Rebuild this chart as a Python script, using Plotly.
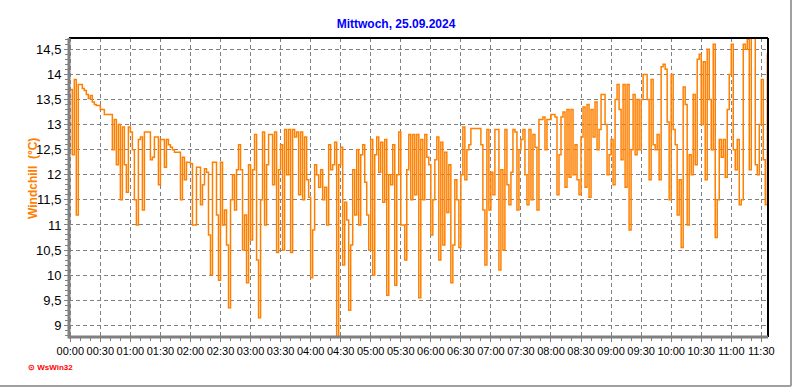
import plotly.graph_objects as go

# ---- data ----
STEP_MIN = 2  # sample spacing in minutes
WINDCHILL = [
    13.7, 12.4, 13.9, 11.2, 13.8, 13.8, 13.72, 13.68, 13.6, 13.52,
    13.58, 13.45, 13.4, 13.38, 13.38, 13.3, 13.3, 13.2, 13.2, 13.2,
    13.2, 12.5, 13.1, 12.2, 13.0, 11.5, 12.95, 12.2, 11.65, 12.95,
    12.85, 12.5, 11.5, 11.0, 12.7, 12.75, 11.3, 12.85, 12.85, 12.85,
    12.3, 12.35, 12.75, 12.75, 11.8, 12.7, 12.7, 12.15, 12.7, 12.6,
    12.55, 12.5, 12.45, 12.45, 12.45, 11.5, 12.35, 11.9, 12.25, 12.25,
    12.22, 11.0, 11.0, 12.15, 12.15, 11.4, 11.8, 12.12, 12.05, 10.8,
    10.0, 12.25, 12.25, 11.2, 9.9, 12.25, 11.0, 11.3, 10.6, 9.35,
    11.5, 12.0, 11.3, 12.1, 12.6, 12.1, 10.5, 11.2, 9.85, 12.2,
    10.7, 12.1, 12.8, 10.3, 9.15, 11.5, 12.85, 11.0, 12.2, 12.8,
    12.8, 11.8, 12.85, 10.45, 12.1, 12.6, 10.5, 12.9, 12.0, 12.9,
    10.45, 12.9, 12.75, 12.85, 11.6, 12.85, 11.5, 12.75, 11.9, 11.55,
    9.95, 10.9, 12.2, 12.0, 11.75, 12.1, 11.5, 11.75, 11.0, 12.6,
    12.1, 12.2, 12.65, 8.75, 12.2, 12.55, 10.2, 11.45, 11.1, 9.3,
    10.6, 12.1, 11.2, 12.5, 11.0, 12.4, 12.6, 11.85, 11.2, 10.5,
    12.7, 10.0, 12.4, 12.75, 12.05, 12.65, 11.45, 12.7, 9.6, 12.0,
    11.8, 12.6, 9.8, 12.0, 12.85, 11.0, 11.0, 10.3, 12.1, 12.8,
    11.5, 12.8, 11.6, 12.8, 9.55, 12.7, 11.5, 12.8, 12.35, 12.2,
    10.8, 11.5, 12.3, 12.75, 10.3, 12.65, 10.6, 12.45, 11.25, 12.2,
    9.85, 10.6, 11.9, 11.5, 10.55, 12.0, 12.95, 11.9, 12.5, 12.6,
    12.92, 12.92, 12.92, 12.92, 12.92, 12.6, 11.3, 10.2, 12.9, 11.3,
    12.05, 11.6, 12.9, 12.9, 10.1, 12.1, 10.5, 12.9, 11.8, 11.4,
    12.05, 12.9, 12.85, 11.3, 12.5, 12.7, 12.9, 12.0, 11.4, 12.9,
    11.5, 12.8, 12.55, 11.3, 13.1, 13.1, 13.15, 12.5, 13.1, 13.1,
    13.2, 13.2, 13.15, 11.6, 12.4, 13.15, 13.25, 11.75, 13.3, 11.95,
    13.3, 12.0, 12.6, 11.9, 11.6, 12.75, 13.35, 11.75, 13.4, 11.55,
    13.3, 12.75, 13.45, 12.5, 12.9, 13.6, 13.6, 13.0, 12.0, 12.4,
    12.7, 11.8, 13.5, 13.8, 13.3, 12.3, 13.8, 11.75, 13.8, 10.9,
    12.5, 13.6, 12.4, 13.5, 12.5, 13.5, 14.0, 14.0, 13.5, 11.9,
    13.9, 12.6, 12.5, 12.8, 11.9, 14.15, 14.2, 14.1, 13.05, 11.5,
    14.0, 12.9, 12.6, 11.2, 11.9, 10.55, 13.75, 13.4, 11.0, 12.4,
    12.0, 13.6, 12.2, 14.3, 14.4, 13.0, 14.25, 11.9, 14.5, 13.5,
    12.5, 14.6, 10.75, 11.5, 12.7, 12.35, 12.7, 11.95, 13.3, 14.0,
    14.6, 12.5, 12.1, 12.7, 11.4, 11.5, 14.6, 14.5, 14.7, 12.1,
    14.75, 14.75, 12.2, 12.0, 13.0, 13.9, 12.3, 11.4, 14.4, 11.1,
]
MINUTES = [i * STEP_MIN for i in range(len(WINDCHILL))]

X_TICK_MIN = list(range(0, 691, 30))
X_TICK_LABELS = [
    "00:00", "00:30", "01:00", "01:30", "02:00", "02:30", "03:00", "03:30",
    "04:00", "04:30", "05:00", "05:30", "06:00", "06:30", "07:00", "07:30",
    "08:00", "08:30", "09:00", "09:30", "10:00", "10:30", "11:00", "11:30",
]
Y_TICKS = [9, 9.5, 10, 10.5, 11, 11.5, 12, 12.5, 13, 13.5, 14, 14.5]

TITLE = "Mittwoch, 25.09.2024"
Y_TITLE = "Windchill\u00a0\u00a0(°C)"

ORANGE = "#FF8000"
GRID = "#808080"
FONT = "Liberation Sans, Arial, sans-serif"

fig = go.Figure()
fig.add_trace(go.Scatter(
    x=MINUTES, y=WINDCHILL, mode="lines",
    line=dict(color=ORANGE, width=1.5, shape="hv"),
    hoverinfo="skip", showlegend=False,
))

fig.update_layout(
    width=792, height=387,
    margin=dict(l=69, r=24, t=38, b=50, autoexpand=False),
    paper_bgcolor="white", plot_bgcolor="white",
    separators=",.",
    font=dict(family=FONT, color="black"),
    title=dict(text="<b>" + TITLE + "</b>", x=0.5, xref="container",
               y=1 - 24 / 387, yref="container", yanchor="middle", xanchor="center",
               font=dict(family=FONT, size=12, color="#0000FF")),
    showlegend=False,
)

fig.update_xaxes(
    range=[-1.3, 696.7], automargin=False, tickangle=0,
    tickmode="array", tickvals=X_TICK_MIN, ticktext=X_TICK_LABELS,
    showgrid=True, gridcolor=GRID, griddash="4px,3px", gridwidth=1,
    zeroline=False, showline=False,
    ticks="outside", ticklen=4, tickcolor=GRID, tickwidth=1,
    minor=dict(tickmode="linear", tick0=0, dtick=10, ticks="outside",
               ticklen=3, tickcolor=GRID, showgrid=False),
    tickfont=dict(family=FONT, size=11, color="black"),
)
fig.update_yaxes(
    range=[8.767, 14.725], automargin=False,
    tickmode="array", tickvals=Y_TICKS,
    showgrid=True, gridcolor=GRID, griddash="4px,3px", gridwidth=1,
    zeroline=False, showline=False,
    ticks="outside", ticklen=4, tickcolor=GRID, tickwidth=1,
    minor=dict(tickmode="linear", tick0=9, dtick=0.1, ticks="outside",
               ticklen=3, tickcolor=GRID, showgrid=False),
    tickfont=dict(family=FONT, size=13, color="black"),
)

# frame lines: grey left/bottom axes, black top/right
fig.add_shape(type="line", xref="paper", yref="paper", x0=0, x1=1, y0=1, y1=1,
              line=dict(color="black", width=2))
fig.add_shape(type="line", xref="paper", yref="paper", x0=1, x1=1, y0=0, y1=1,
              line=dict(color="black", width=2))
fig.add_shape(type="line", xref="paper", yref="paper", x0=0, x1=0, y0=-0.005, y1=1,
              line=dict(color=GRID, width=3))
fig.add_shape(type="line", xref="paper", yref="paper", x0=0, x1=1, y0=0, y1=0,
              line=dict(color=GRID, width=3))
# outer grey border of the picture (right and bottom)
fig.add_shape(type="line", xref="paper", yref="paper",
              x0=(791 - 69) / 699, x1=(791 - 69) / 699, y0=-49 / 299, y1=38 / 299 + 1,
              line=dict(color="#A0A0A0", width=2))
fig.add_shape(type="line", xref="paper", yref="paper",
              x0=-69 / 699, x1=(791 - 69) / 699, y0=-49 / 299, y1=-49 / 299,
              line=dict(color="#A0A0A0", width=2))

fig.add_annotation(
    text="<b>" + Y_TITLE + "</b>", textangle=-90, showarrow=False,
    xref="paper", yref="paper", x=(33 - 69) / 699, y=(337 - 179) / 299,
    xanchor="center", yanchor="middle",
    font=dict(family=FONT, size=12, color=ORANGE),
)
fig.add_annotation(
    text="<b>⊙ WsWin32</b>", showarrow=False,
    xref="paper", yref="paper", x=(26 - 69) / 699, y=(337 - 367) / 299,
    xanchor="left", yanchor="middle",
    font=dict(family=FONT, size=8, color="#FF0000"),
)

fig.write_html(
    "out.html",
    config={"displayModeBar": False},
    post_script="document.body.style.margin='0';document.body.style.padding='0';",
)
